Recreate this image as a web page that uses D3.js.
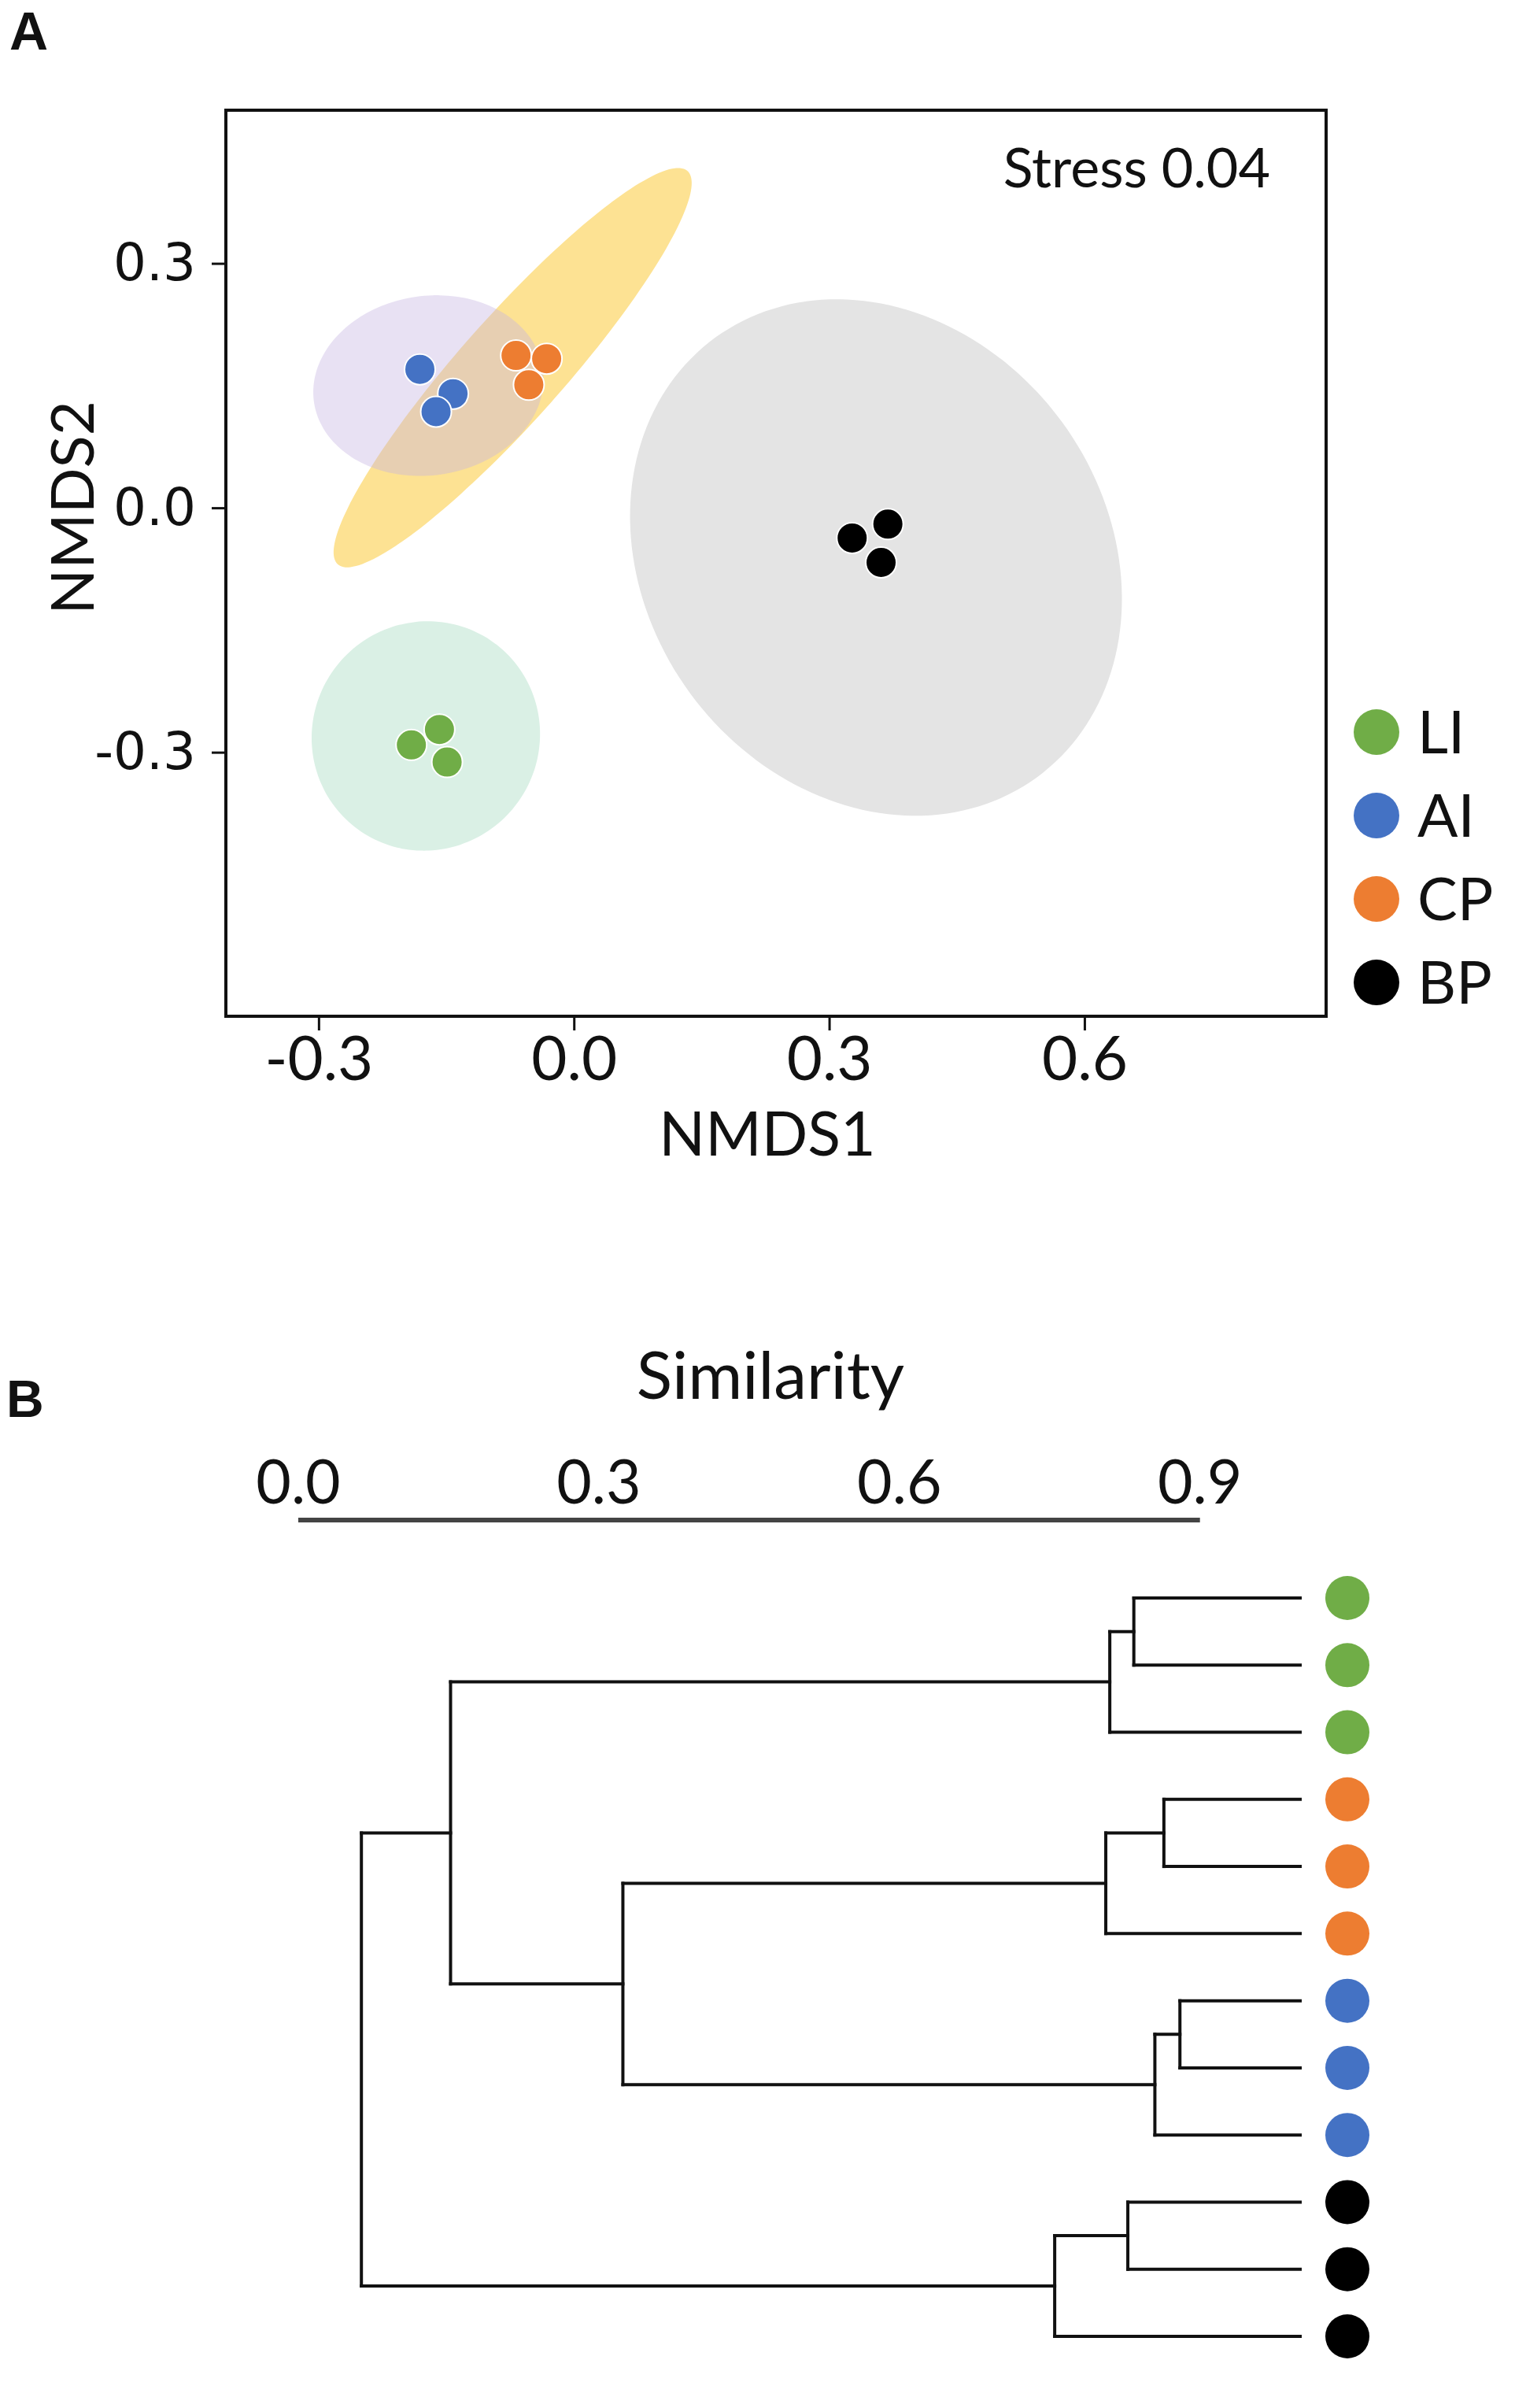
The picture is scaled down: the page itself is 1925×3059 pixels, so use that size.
<!DOCTYPE html>
<html>
<head>
<meta charset="utf-8">
<script src="https://cdn.jsdelivr.net/npm/d3@7"></script>
<style>
body { margin: 0; background: #fff; }
text { fill: #111; }
</style>
</head>
<body>
<svg id="chart" width="1925" height="3059"></svg>
<script>
const groups = ["LI", "AI", "CP", "BP"]
const groupColors = ["#70AD47", "#4472C4", "#ED7D31", "#000000"]

// NMDS scores
const nmdsGroup = ["LI", "LI", "LI", "AI", "AI", "AI", "CP", "CP", "CP", "BP", "BP", "BP"]
const nmds1 = [-0.191, -0.158, -0.149, -0.181, -0.142, -0.162, -0.068, -0.032, -0.053, 0.327, 0.369, 0.361]
const nmds2 = [-0.291, -0.272, -0.312, 0.170, 0.140, 0.118, 0.187, 0.183, 0.151, -0.037, -0.020, -0.067]

// group ellipses (centre, semi axes, angle in degrees) in NMDS units
const ellipseGroup = ["CP", "AI", "LI", "BP"]
const ellipseCx = [-0.072, -0.171, -0.174, 0.355]
const ellipseCy = [0.172, 0.150, -0.280, -0.061]
const ellipseA = [0.317, 0.136, 0.141, 0.330]
const ellipseB = [0.062, 0.110, 0.134, 0.274]
const ellipseAngle = [49.7, 10, 80, -60]

const xTicks = [-0.3, 0.0, 0.3, 0.6]
const yTicks = [-0.3, 0.0, 0.3]
const stressLabel = "Stress 0.04"

// dendrogram (hclust style merge table, negative = leaf)
const leafIds = ["LI1", "LI2", "LI3", "CP1", "CP2", "CP3", "AI1", "AI2", "AI3", "BP1", "BP2", "BP3"]
const leafGroup = ["LI", "LI", "LI", "CP", "CP", "CP", "AI", "AI", "AI", "BP", "BP", "BP"]
const mergeLeft = [-1, 1, -4, 3, -7, 5, -10, 7, 4, 2, 10]
const mergeRight = [-2, -3, -5, -6, -8, -9, -11, -12, 6, 9, 8]
const mergeHeight = [0.834, 0.810, 0.864, 0.806, 0.880, 0.855, 0.828, 0.755, 0.324, 0.152, 0.063]
const simTicks = [0.0, 0.3, 0.6, 0.9]

const ellipseColors = { CP: "#FDE293", AI: "#C6B4E1", LI: "#DAF0E5", BP: "#E4E4E4" }
const ellipseOpacity = { CP: 1, AI: 0.4, LI: 1, BP: 1 }

const color = d3.scaleOrdinal().domain(groups).range(groupColors)
const svg = d3.select("#chart")
const sans = "Lato, 'Open Sans', sans-serif"

svg.append("rect").attr("width", 1925).attr("height", 3059).attr("fill", "white")

// ---------- panel A ----------
const box = { left: 287, right: 1685, top: 140, bottom: 1291 }
const x = d3.scaleLinear().domain([-0.409, 0.884]).range([box.left, box.right])
const y = d3.scaleLinear().domain([-0.624, 0.488]).range([box.bottom, box.top])

svg.append("text").text("A")
    .attr("x", 12).attr("y", 63)
    .attr("font-family", "'Liberation Sans', Arial, sans-serif")
    .attr("font-weight", "bold").attr("font-size", 68)

const ellipseLine = d3.line()
    .x(d => x(d[0]))
    .y(d => y(d[1]))
    .curve(d3.curveCardinalClosed)

svg.append("g").selectAll("path")
    .data(ellipseGroup)
    .enter()
    .append("path")
    .attr("d", (g, i) => {
        const phi = ellipseAngle[i] * Math.PI / 180
        const pts = d3.range(0, 360, 4).map(t => {
            const r = t * Math.PI / 180
            const ex = ellipseA[i] * Math.cos(r), ey = ellipseB[i] * Math.sin(r)
            return [ellipseCx[i] + ex * Math.cos(phi) - ey * Math.sin(phi),
                    ellipseCy[i] + ex * Math.sin(phi) + ey * Math.cos(phi)]
        })
        return ellipseLine(pts)
    })
    .attr("fill", g => ellipseColors[g])
    .attr("fill-opacity", g => ellipseOpacity[g])
    .attr("stroke", "none")

svg.append("g").selectAll("circle")
    .data(nmds1)
    .enter()
    .append("circle")
    .attr("cx", d => x(d))
    .attr("cy", (d, i) => y(nmds2[i]))
    .attr("r", 19.5)
    .attr("fill", (d, i) => color(nmdsGroup[i]))
    .attr("stroke", "white")
    .attr("stroke-width", 2)

const xAxis = svg.append("g")
    .attr("transform", `translate(0, ${box.bottom})`)
    .call(d3.axisBottom(x).tickValues(xTicks).tickSize(18).tickSizeOuter(0).tickPadding(8)
        .tickFormat(d => d.toFixed(1)))
xAxis.select(".domain").remove()
xAxis.selectAll("line").attr("stroke", "#111").attr("stroke-width", 3)
xAxis.selectAll("text").attr("font-family", sans).attr("font-size", 78).attr("fill", "#111")

const yAxis = svg.append("g")
    .attr("transform", `translate(${box.left}, 0)`)
    .call(d3.axisLeft(y).tickValues(yTicks).tickSize(18).tickSizeOuter(0).tickPadding(20)
        .tickFormat(d => d.toFixed(1)))
yAxis.select(".domain").remove()
yAxis.selectAll("line").attr("stroke", "#111").attr("stroke-width", 3)
yAxis.selectAll("text").attr("font-family", "'DejaVu Sans', sans-serif").attr("font-size", 66).attr("fill", "#111")

svg.append("rect")
    .attr("x", box.left).attr("y", box.top)
    .attr("width", box.right - box.left).attr("height", box.bottom - box.top)
    .attr("fill", "none").attr("stroke", "#111").attr("stroke-width", 4)

svg.append("text").text("NMDS1")
    .attr("x", 975).attr("y", 1468).attr("text-anchor", "middle")
    .attr("font-family", sans).attr("font-size", 77)

svg.append("text").text("NMDS2")
    .attr("transform", "translate(119, 645) rotate(-90)")
    .attr("text-anchor", "middle")
    .attr("font-family", sans).attr("font-size", 76)

svg.append("text").text(stressLabel)
    .attr("x", 1614).attr("y", 238).attr("text-anchor", "end")
    .attr("font-family", sans).attr("font-size", 70)

const legendY = d3.scalePoint().domain(groups).range([930, 1248])
const legend = svg.append("g").selectAll("g")
    .data(groups)
    .enter()
    .append("g")
    .attr("transform", g => `translate(1749, ${legendY(g)})`)
legend.append("circle").attr("r", 29).attr("fill", g => color(g))
legend.append("text").text(g => g)
    .attr("x", 52).attr("dy", "0.36em")
    .attr("font-family", sans).attr("font-size", 76)

// ---------- panel B ----------
const sim = d3.scaleLinear().domain([0, 1]).range([379, 1652])
const leafY = d3.scalePoint().domain(leafIds).range([2030, 2968])

svg.append("text").text("B")
    .attr("x", 8).attr("y", 1800)
    .attr("font-family", "'Liberation Sans', Arial, sans-serif")
    .attr("font-weight", "bold").attr("font-size", 66)

svg.append("text").text("Similarity")
    .attr("x", 979).attr("y", 1777).attr("text-anchor", "middle")
    .attr("font-family", sans).attr("font-size", 84)

svg.append("line")
    .attr("x1", sim(simTicks[0])).attr("x2", sim(simTicks[simTicks.length - 1]))
    .attr("y1", 1931).attr("y2", 1931)
    .attr("stroke", "#444").attr("stroke-width", 6)

svg.append("g").selectAll("text")
    .data(simTicks)
    .enter()
    .append("text")
    .text(d => d.toFixed(1))
    .attr("x", d => sim(d)).attr("y", 1910)
    .attr("text-anchor", "middle")
    .attr("font-family", sans).attr("font-size", 77)

// node positions from the merge table
const nodes = []
function nodeOf(k) {
    if (k < 0) return { x: sim(1), y: leafY(leafIds[-k - 1]) }
    return nodes[k - 1]
}
const segments = []
mergeHeight.forEach((h, i) => {
    const a = nodeOf(mergeLeft[i]), b = nodeOf(mergeRight[i])
    const nx = sim(h)
    const node = { x: nx, y: (a.y + b.y) / 2 }
    nodes.push(node)
    segments.push([[nx, a.y], [nx, b.y]])
    segments.push([[nx, a.y], [a.x, a.y]])
    segments.push([[nx, b.y], [b.x, b.y]])
})

svg.append("g").selectAll("path")
    .data(segments)
    .enter()
    .append("path")
    .attr("d", d => d3.line()(d))
    .attr("stroke", "#111")
    .attr("stroke-width", 4)
    .attr("stroke-linecap", "square")
    .attr("fill", "none")

svg.append("g").selectAll("circle")
    .data(leafIds)
    .enter()
    .append("circle")
    .attr("cx", 1712)
    .attr("cy", d => leafY(d))
    .attr("r", 28)
    .attr("fill", (d, i) => color(leafGroup[i]))
</script>
</body>
</html>
